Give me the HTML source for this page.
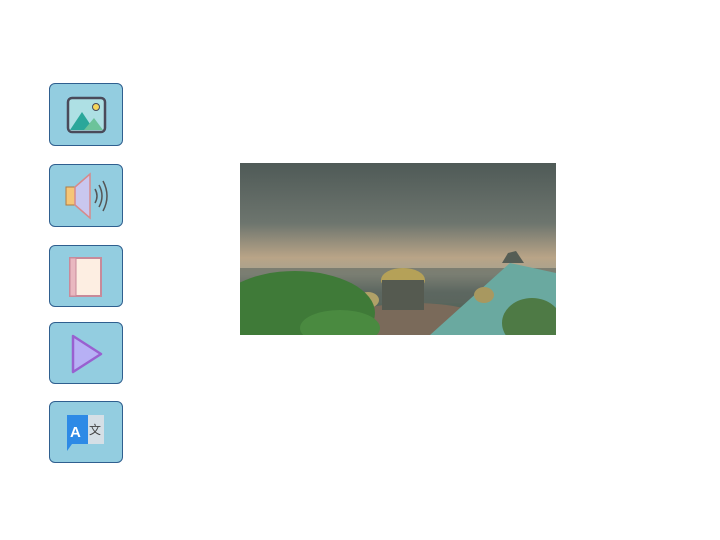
<!DOCTYPE html>
<html><head><meta charset="utf-8"><style>
body{margin:0;width:720px;height:540px;background:#fff;position:relative;overflow:hidden;font-family:"Liberation Sans",sans-serif}
.btn{position:absolute;left:49px;width:74px;border:1px solid #2f5f8f;border-radius:6px;background:#93cde0;box-sizing:border-box}
.btn svg{position:absolute;left:0;top:0}
</style></head><body>
<div class="btn" style="top:83px;height:63px">
<svg width="74" height="63"><rect x="18" y="14" width="37" height="34" rx="4" fill="#aee0e4" stroke="#4a4a5a" stroke-width="2.5"/><polygon points="20,46 32,28 44,46" fill="#2aa79a"/><polygon points="34,46 44,34 53,46" fill="#6cc39a"/><circle cx="46" cy="23" r="3.5" fill="#f6d65c" stroke="#4a4a5a"/></svg></div>
<div class="btn" style="top:164px;height:63px">
<svg width="74" height="63"><rect x="16" y="22" width="9" height="18" fill="#f5c678" stroke="#b07a40"/><polygon points="25,22 40,9 40,53 25,40" fill="#c9c7ef" stroke="#d88a8a" stroke-width="1.5"/><path d="M45 24 q4 7 0 14 M49 20 q6 11 0 22 M53 16 q8 15 0 30" stroke="#555" stroke-width="1.5" fill="none"/></svg></div>
<div class="btn" style="top:245px;height:62px">
<svg width="74" height="62"><rect x="20" y="12" width="31" height="38" fill="#fdeee2" stroke="#c88a9a" stroke-width="2"/><rect x="20" y="12" width="6" height="38" fill="#e9b8c0" stroke="#c88a9a"/></svg></div>
<div class="btn" style="top:322px;height:62px">
<svg width="74" height="62"><polygon points="23,13 51,31 23,49" fill="#b7b0f5" stroke="#9960d0" stroke-width="2.5" stroke-linejoin="round"/></svg></div>
<div class="btn" style="top:401px;height:62px">
<svg width="74" height="62"><rect x="34" y="13" width="20" height="29" fill="#d5dfe6"/><polygon points="17,13 38,13 38,42 22,42 17,49" fill="#2d8ae6"/><text x="20" y="35" font-size="15" font-weight="bold" fill="#fff" font-family="Liberation Sans,sans-serif">A</text><text x="39" y="32" font-size="12" fill="#444" font-family="Noto Sans CJK SC,sans-serif">文</text></svg></div>
<svg style="position:absolute;left:240px;top:163px" width="316" height="172">
<defs><linearGradient id="sky" x1="0" y1="0" x2="0" y2="1"><stop offset="0" stop-color="#4f5a57"/><stop offset="0.35" stop-color="#6d756e"/><stop offset="0.55" stop-color="#b9a487"/><stop offset="0.65" stop-color="#a5a28f"/><stop offset="0.75" stop-color="#5c6a63"/><stop offset="1" stop-color="#4c5a4a"/></linearGradient></defs>
<rect width="316" height="172" fill="url(#sky)"/>
<rect y="105" width="316" height="35" fill="#5e665f" opacity="0.6"/>
<ellipse cx="175" cy="165" rx="80" ry="25" fill="#7a6a5a"/>
<polygon points="190,172 270,100 316,110 316,172" fill="#6aa9a0"/>
<polygon points="262,100 268,90 276,88 284,100" fill="#555d55"/>
<ellipse cx="163" cy="117" rx="22" ry="12" fill="#b5a158"/>
<rect x="142" y="117" width="42" height="30" fill="#555a50"/>
<ellipse cx="244" cy="132" rx="10" ry="8" fill="#a89860"/>
<ellipse cx="128" cy="137" rx="11" ry="8" fill="#b0a168"/>
<ellipse cx="55" cy="150" rx="80" ry="42" fill="#3f7a38"/>
<ellipse cx="100" cy="165" rx="40" ry="18" fill="#4a8a40"/>
<ellipse cx="292" cy="160" rx="30" ry="25" fill="#4e7a45"/>
</svg>
</body></html>
